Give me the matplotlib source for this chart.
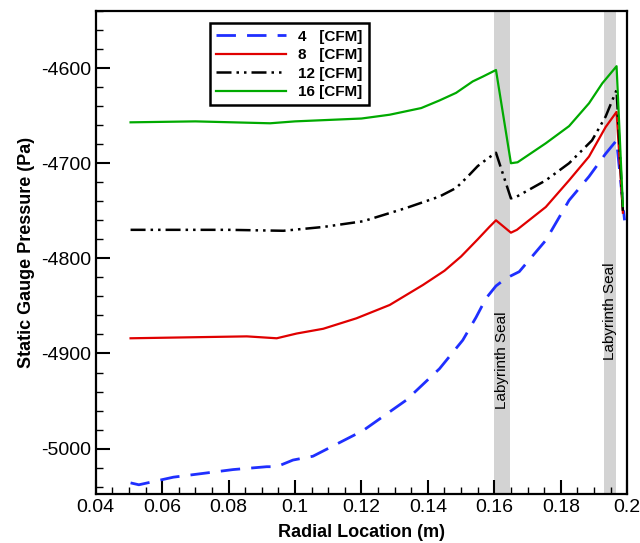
import numpy as np
from matplotlib import pyplot as plt
from matplotlib.ticker import MultipleLocator

plt.rcParams['font.family'] = ['Liberation Sans', 'DejaVu Sans']
plt.rcParams['axes.unicode_minus'] = False

# radial positions (m) and static gauge pressure (Pa) for each flow rate
x_16 = [0.0505, 0.07, 0.0925, 0.10, 0.12, 0.1285, 0.138, 0.1435, 0.1485, 0.1535, 0.1565, 0.1605,
        0.165, 0.167, 0.1755, 0.1825, 0.1885, 0.1925, 0.1968, 0.1987]
p_16 = [-4657, -4656, -4658, -4656, -4653, -4649, -4642, -4634, -4626, -4614, -4609, -4602,
        -4700, -4699, -4679, -4661, -4637, -4616, -4598, -4745]

x_12 = [0.0505, 0.08, 0.0965, 0.1085, 0.1205, 0.1335, 0.1435, 0.1485, 0.152, 0.155, 0.158, 0.1605,
        0.165, 0.1668, 0.1755, 0.1825, 0.1894, 0.1935, 0.1968, 0.1987]
p_12 = [-4770, -4770, -4771, -4767, -4761, -4747, -4735, -4726, -4714, -4703, -4695, -4689,
        -4737, -4735, -4718, -4700, -4676, -4651, -4623, -4750]

x_8 = [0.0505, 0.0855, 0.0945, 0.1005, 0.1085, 0.1185, 0.1285, 0.1385, 0.145, 0.15, 0.155, 0.1585,
       0.1605, 0.165, 0.1668, 0.1755, 0.1825, 0.1885, 0.1935, 0.1968, 0.1987]
p_8 = [-4884, -4882, -4884, -4879, -4874, -4863, -4849, -4828, -4813, -4798, -4780, -4767,
       -4760, -4773, -4770, -4746, -4718, -4693, -4662, -4646, -4752]

x_4 = [0.0505, 0.053, 0.0634, 0.0814, 0.0915, 0.0945, 0.0994, 0.1054, 0.1205, 0.1335, 0.1435,
       0.1505, 0.1545, 0.1575, 0.1605, 0.1635, 0.1675, 0.1755, 0.1825, 0.1885, 0.1935, 0.1968, 0.1992]
p_4 = [-5036, -5038, -5030, -5022, -5019, -5019, -5012, -5008, -4981, -4949, -4916,
       -4886, -4862, -4842, -4829, -4821, -4814, -4781, -4739, -4714, -4690, -4676, -4760]

seals = [(0.16, 0.1648), (0.1929, 0.1965)]

fig = plt.figure(figsize=(6.4, 5.43), dpi=100)
ax = fig.add_axes([0.1495, 0.0897, 0.8305, 0.89])

for a, b in seals:
    ax.axvspan(a, b, color='#d3d3d3', lw=0, zorder=0)
ax.text(sum(seals[0]) / 2, -4907, 'Labyrinth Seal', rotation=90, ha='center', va='center', fontsize=11)
ax.text(sum(seals[1]) / 2, -4856, 'Labyrinth Seal', rotation=90, ha='center', va='center', fontsize=11)

ax.plot(x_4, p_4, color='#1f2fff', lw=2, dashes=(7, 4), label='4   [CFM]')
ax.plot(x_8, p_8, color='#e00000', lw=1.6, label='8   [CFM]')
ax.plot(x_12, p_12, color='black', lw=1.8, dashes=(6, 2, 1, 2, 1, 2), label='12 [CFM]')
ax.plot(x_16, p_16, color='#00aa00', lw=1.6, label='16 [CFM]')

ax.set_xlim(0.04, 0.2)
ax.set_ylim(-5048, -4540)
ax.xaxis.set_minor_locator(MultipleLocator(0.005))
ax.yaxis.set_major_locator(MultipleLocator(100))
ax.yaxis.set_minor_locator(MultipleLocator(20))
ax.set_xticks(np.arange(0.04, 0.2001, 0.02))
ax.set_xticklabels(['0.04', '0.06', '0.08', '0.1', '0.12', '0.14', '0.16', '0.18', '0.2'])
ax.tick_params(which='both', direction='in', top=False, right=False, labelsize=14, width=1.5)
ax.tick_params(which='major', length=10)
ax.tick_params(which='minor', length=5, width=1)
for s in ax.spines.values():
    s.set_linewidth(1.6)

ax.set_xlabel('Radial Location (m)', fontsize=13, fontweight='bold', labelpad=6)
ax.set_ylabel('Static Gauge Pressure (Pa)', fontsize=13, fontweight='bold', labelpad=4)

leg = ax.legend(loc='upper left', bbox_to_anchor=(0.2, 0.99), fancybox=False, edgecolor='black',
                framealpha=1, handlelength=4.6, prop={'weight': 'bold', 'size': 11},
                borderpad=0.4, labelspacing=0.3)
leg.get_frame().set_linewidth(1.8)

plt.savefig('out.png', dpi=100)
